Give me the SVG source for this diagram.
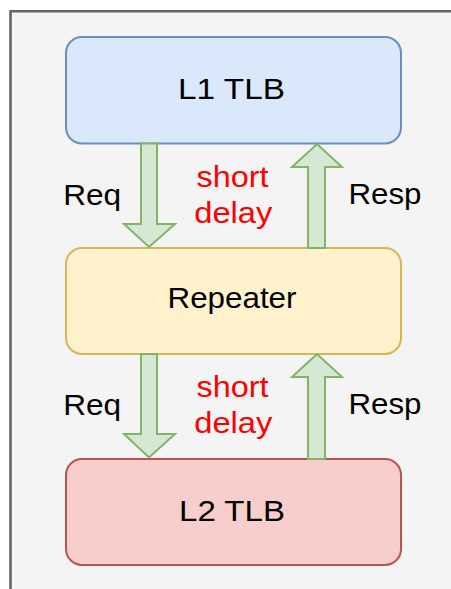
<svg xmlns="http://www.w3.org/2000/svg" width="451" height="589" viewBox="0 0 451 589">
  <style>
    .lbl { font-family: "Liberation Sans", Arial, sans-serif; font-size: 29px; fill: #000; }
    .red { fill: #ff0000; }
    .box { stroke-width: 2; }
    .arrow { fill: #d5e8d4; stroke: #82b366; stroke-width: 2; stroke-linejoin: miter; }
  </style>
  <rect width="451" height="589" fill="#ffffff"/>
  <!-- frame: left and top edges only -->
  <rect x="10.5" y="11.3" width="445" height="585" fill="#f4f4f4"/>
  <path d="M10.5 589 V11.3 H451" fill="none" stroke="#666666" stroke-width="2.6"/>

  <g id="l1-tlb">
    <rect class="box" x="66" y="37" width="335" height="106.5" rx="16" fill="#dae8fc" stroke="#6c8ebf"/>
    <text class="lbl" x="231.5" y="98.5" text-anchor="middle" textLength="107" lengthAdjust="spacingAndGlyphs">L1 TLB</text>
  </g>
  <g id="repeater">
    <rect class="box" x="66" y="248" width="335" height="106" rx="16" fill="#fff2cc" stroke="#d6b656"/>
    <text class="lbl" x="232" y="308.3" text-anchor="middle" textLength="129" lengthAdjust="spacingAndGlyphs">Repeater</text>
  </g>
  <g id="l2-tlb">
    <rect class="box" x="66" y="459" width="335" height="106" rx="16" fill="#f8cecc" stroke="#b85450"/>
    <text class="lbl" x="232" y="521" text-anchor="middle" textLength="106" lengthAdjust="spacingAndGlyphs">L2 TLB</text>
  </g>

  <g id="connectors">
    <!-- L1 -> Repeater -->
    <polygon class="arrow" points="141,143.5 157,143.5 157,224 175,224 149,247 124,224 141,224"/>
    <polygon class="arrow" points="308,248 325,248 325,167 342,167 317,144 292,167 308,167"/>
    <!-- Repeater -> L2 -->
    <polygon class="arrow" points="141,354 157,354 157,434 175,434 149,457.5 124,434 141,434"/>
    <polygon class="arrow" points="308,459 325,459 325,377 342,377 317,354 292,377 308,377"/>
  </g>

  <g id="labels-upper">
    <text class="lbl" x="92.2" y="205" text-anchor="middle" textLength="58" lengthAdjust="spacingAndGlyphs">Req</text>
    <text class="lbl red" x="232.5" y="186.5" text-anchor="middle" textLength="72" lengthAdjust="spacingAndGlyphs">short</text>
    <text class="lbl red" x="233.3" y="222.5" text-anchor="middle" textLength="78" lengthAdjust="spacingAndGlyphs">delay</text>
    <text class="lbl" x="385" y="203.5" text-anchor="middle" textLength="73" lengthAdjust="spacingAndGlyphs">Resp</text>
  </g>
  <g id="labels-lower">
    <text class="lbl" x="92.2" y="415" text-anchor="middle" textLength="58" lengthAdjust="spacingAndGlyphs">Req</text>
    <text class="lbl red" x="232.5" y="396.5" text-anchor="middle" textLength="72" lengthAdjust="spacingAndGlyphs">short</text>
    <text class="lbl red" x="233.3" y="432.5" text-anchor="middle" textLength="78" lengthAdjust="spacingAndGlyphs">delay</text>
    <text class="lbl" x="385" y="413.5" text-anchor="middle" textLength="73" lengthAdjust="spacingAndGlyphs">Resp</text>
  </g>
</svg>
